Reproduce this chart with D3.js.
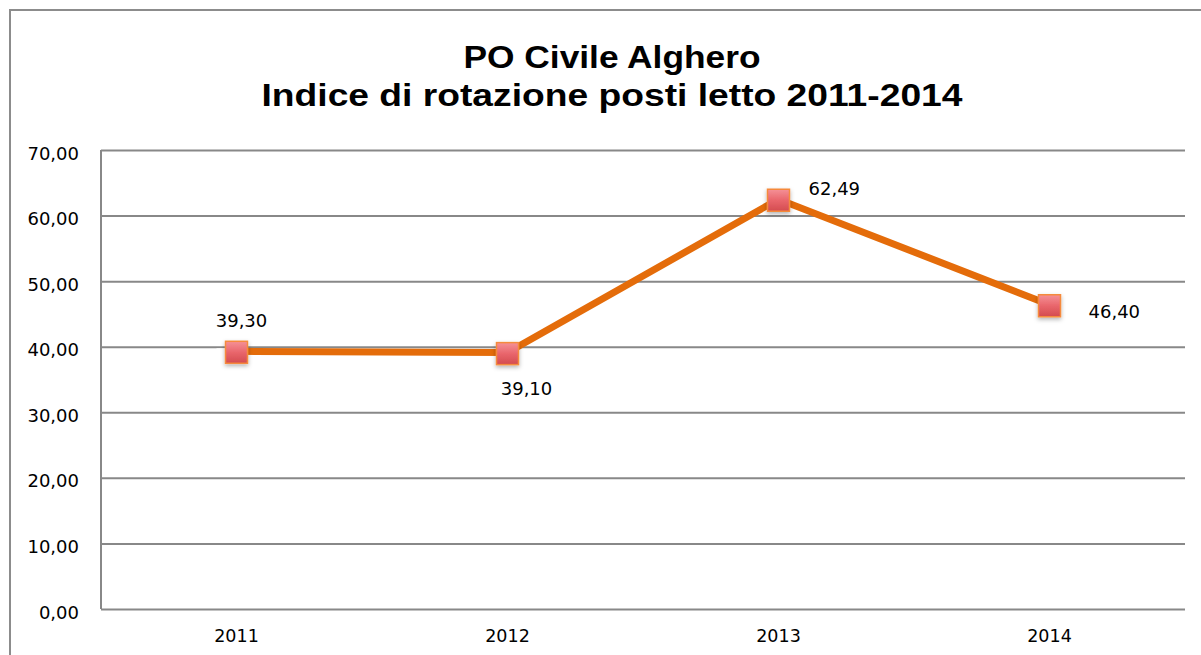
<!DOCTYPE html>
<html>
<head>
<meta charset="utf-8">
<script src="https://cdn.jsdelivr.net/npm/d3@7"></script>
<style>
  html, body { margin: 0; padding: 0; background: #fff; }
  svg { display: block; }
</style>
</head>
<body>
<svg id="chart" width="1201" height="655"></svg>
<script>
const titleLines = ["PO Civile Alghero", "Indice di rotazione posti letto 2011-2014"];
const categories = ["2011", "2012", "2013", "2014"];
const values = [39.30, 39.10, 62.49, 46.40];
const yTicks = [0, 10, 20, 30, 40, 50, 60, 70];
const labelText = ["39,30", "39,10", "62,49", "46,40"];

const svg = d3.select("#chart");
const W = 1201, H = 655;
const m = { left: 101, right: 1185, top: 150, bottom: 609 };

svg.append("rect").attr("width", W).attr("height", H).attr("fill", "#fff");

// outer chart border
svg.append("rect")
  .attr("x", 10).attr("y", 10).attr("width", 1200).attr("height", 660)
  .attr("fill", "none").attr("stroke", "#8c8c8c").attr("stroke-width", 2);

const defs = svg.append("defs");
const grad = defs.append("linearGradient").attr("id", "mk").attr("x1", 0).attr("y1", 0).attr("x2", 0).attr("y2", 1);
grad.append("stop").attr("offset", "0%").attr("stop-color", "#f59197");
grad.append("stop").attr("offset", "50%").attr("stop-color", "#e9666c");
grad.append("stop").attr("offset", "100%").attr("stop-color", "#d34b4f");
const flt = defs.append("filter").attr("id", "sh").attr("x", "-50%").attr("y", "-50%").attr("width", "200%").attr("height", "200%");
flt.append("feDropShadow").attr("dx", 0).attr("dy", 2).attr("stdDeviation", 2).attr("flood-color", "#000").attr("flood-opacity", 0.3);

const x = d3.scaleBand().domain(categories).range([m.left, m.right]);
const y = d3.scaleLinear().domain([0, 70]).range([m.bottom, m.top]);
const fmt = d => d3.format(".2f")(d).replace(".", ",");

// gridlines + y tick labels
const yAxis = d3.axisLeft(y).tickValues(yTicks).tickSize(-(m.right - m.left)).tickFormat(fmt).tickPadding(22);
const gy = svg.append("g").attr("transform", `translate(${m.left},0)`).call(yAxis);
gy.select(".domain").remove();
gy.selectAll(".tick line").attr("stroke", "#888").attr("stroke-width", 2);
gy.selectAll(".tick text")
  .attr("font-family", "DejaVu Sans").attr("font-size", 18).attr("fill", "#000")
  .attr("dy", "0.5em");

// left axis line
svg.append("line").attr("x1", m.left).attr("x2", m.left).attr("y1", m.top).attr("y2", m.bottom)
  .attr("stroke", "#888").attr("stroke-width", 2);

// x axis labels
const xAxis = d3.axisBottom(x).tickSize(0).tickPadding(21);
const gx = svg.append("g").attr("transform", `translate(0,${m.bottom})`).call(xAxis);
gx.select(".domain").remove();
gx.selectAll(".tick text").attr("font-family", "DejaVu Sans").attr("font-size", 17.5).attr("fill", "#000");

const cx = (d, i) => x(categories[i]) + x.bandwidth() / 2;

// white halos behind markers (cuts gridlines like the reference)
svg.append("g").selectAll("rect").data(values).join("rect")
  .attr("x", (d, i) => cx(d, i) - 20).attr("y", d => y(d) - 3)
  .attr("width", 40).attr("height", 6).attr("fill", "#fff");

// line
const line = d3.line().x((d, i) => cx(d, i)).y(d => y(d));
svg.append("path").datum(values).attr("d", line)
  .attr("fill", "none").attr("stroke", "#e46c0a").attr("stroke-width", 7).attr("stroke-linejoin", "miter");

// markers
const ms = 22;
svg.append("g").selectAll("rect").data(values).join("rect")
  .attr("x", (d, i) => cx(d, i) - ms / 2).attr("y", d => y(d) - ms / 2 + 1)
  .attr("width", ms).attr("height", ms)
  .attr("fill", "url(#mk)").attr("stroke", "#f58a3c").attr("stroke-width", 1.5)
  .attr("filter", "url(#sh)");

// data labels
const labelPos = [
  { dx: 5, dy: -29, anchor: "middle" },
  { dx: 19, dy: 37, anchor: "middle" },
  { dx: 30, dy: -9, anchor: "start" },
  { dx: 39, dy: 8, anchor: "start" }
];
svg.append("g").selectAll("text").data(values).join("text")
  .attr("x", (d, i) => cx(d, i) + labelPos[i].dx)
  .attr("y", (d, i) => y(d) + labelPos[i].dy)
  .attr("text-anchor", (d, i) => labelPos[i].anchor)
  .attr("dominant-baseline", "middle")
  .attr("font-family", "DejaVu Sans").attr("font-size", 18).attr("fill", "#000")
  .text((d, i) => labelText[i]);

// title
const tg = svg.append("g").attr("font-family", "Liberation Sans").attr("font-weight", "bold")
  .attr("fill", "#000").attr("text-anchor", "middle");
const titleY = [68, 106];
const titleW = [297, 701];
titleLines.forEach((t, i) => {
  const el = tg.append("text").attr("x", 612).attr("y", titleY[i]).attr("font-size", 31).text(t);
  el.attr("textLength", titleW[i]).attr("lengthAdjust", "spacingAndGlyphs");
});
</script>
</body>
</html>
